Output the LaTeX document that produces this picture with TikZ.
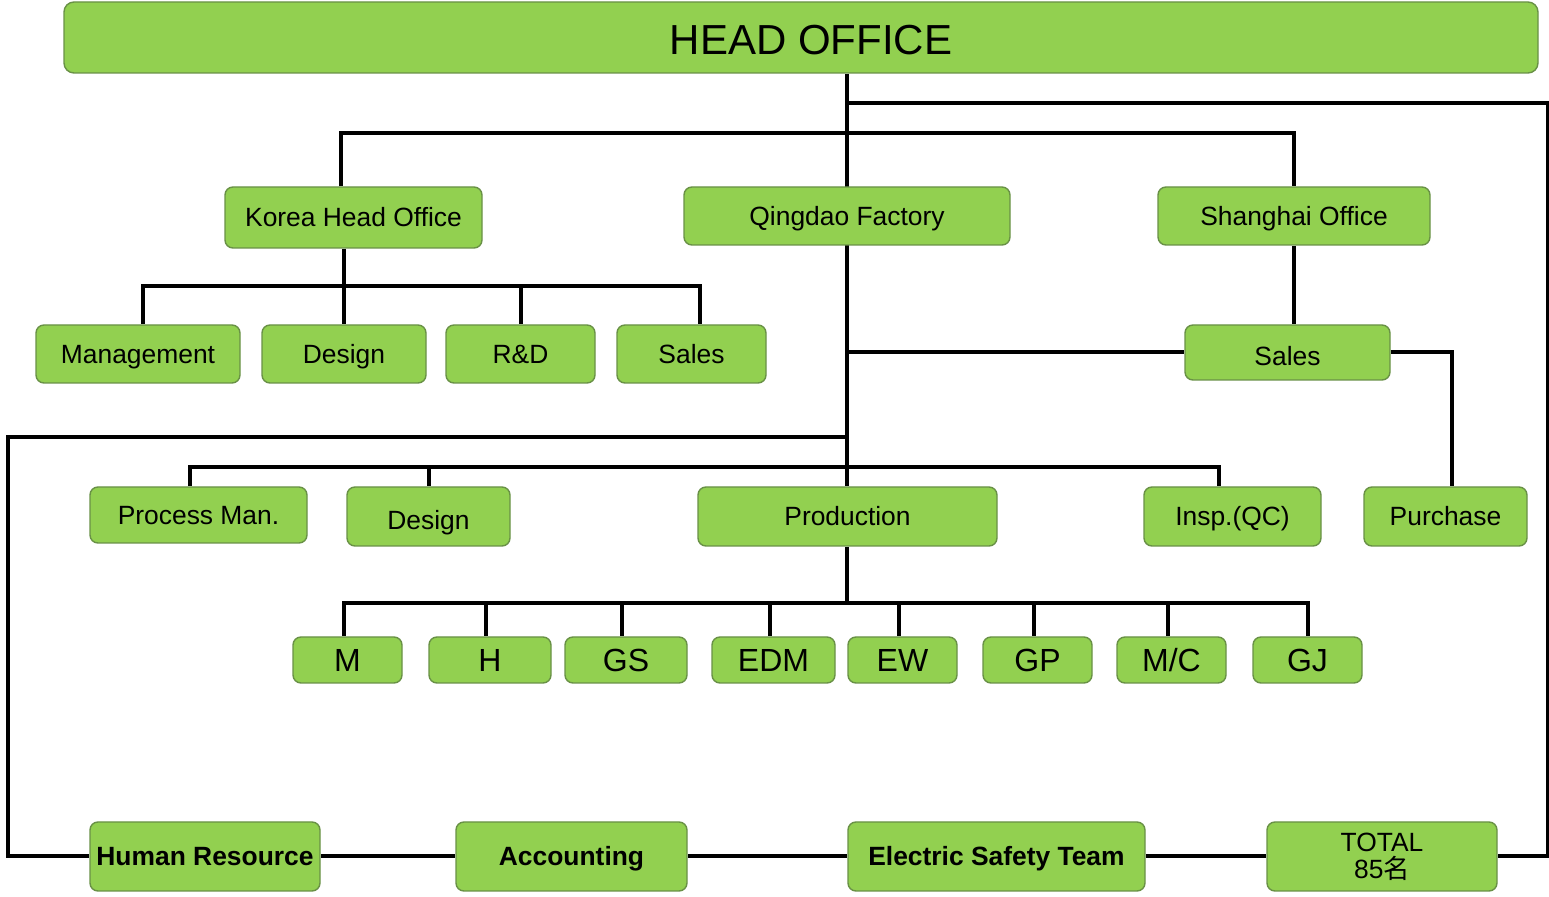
\documentclass[tikz,border=0pt]{standalone}
\usepackage{fontspec}
\setmainfont{Liberation Sans}
\newfontfamily\cjk{Noto Sans CJK SC}
\usetikzlibrary{backgrounds}
\definecolor{boxfill}{RGB}{146,208,80}
\definecolor{boxline}{RGB}{105,145,70}
\begin{document}
\begin{tikzpicture}[x=0.5pt,y=-0.5pt,
  boxbase/.style={draw=boxline, fill=boxfill, line width=0.7pt, rounded corners=4pt,
    inner sep=0pt, align=center, font=\fontsize{13.2}{14}\selectfont},
  box/.style={boxbase, text height=9.45pt, text depth=0pt},
  small/.style={boxbase, font=\fontsize{16}{18}\selectfont, minimum height=23pt, text height=11.5pt, text depth=0pt},
  mid/.style={box, minimum height=29.5pt},
  bottom/.style={box, font=\fontsize{13.2}{14}\selectfont\bfseries, minimum height=34.5pt},
  conn/.style={draw=black, line width=2pt}]
\useasboundingbox (0,0) rectangle (1549,897);
% nodes
\node[boxbase, minimum width=737pt, minimum height=35.5pt, font=\fontsize{21}{24}\selectfont, rounded corners=5pt, text height=15pt, text depth=0pt] (head) at (801,37.5) {\hspace*{10pt}\raisebox{-1pt}{HEAD OFFICE}};
\node[box, minimum width=128.5pt, minimum height=30.5pt] (kho) at (353.5,217.5) {Korea Head Office};
\node[box, minimum width=163pt, minimum height=29pt] (qd) at (847,216) {Qingdao Factory};
\node[box, minimum width=136pt, minimum height=29pt] (sh) at (1294,216) {Shanghai Office};
\node[box, minimum width=102pt, minimum height=29pt] (mgmt) at (138,354) {Management};
\node[box, minimum width=82pt, minimum height=29pt] (kdes) at (344,354) {Design};
\node[box, minimum width=74.5pt, minimum height=29pt] (rd) at (520.5,354) {R\&D};
\node[box, minimum width=74.5pt, minimum height=29pt] (ksales) at (691.5,354) {Sales};
\node[box, minimum width=102.5pt, minimum height=27.5pt] (ssales) at (1287.5,352.5) {\raisebox{-2pt}{Sales}};
\node[box, minimum width=108.5pt, minimum height=28pt] (pm) at (198.5,515) {Process Man.};
\node[mid, minimum width=81.5pt] (qdes) at (428.5,516.5) {\raisebox{-2pt}{Design}};
\node[mid, minimum width=149.5pt] (prod) at (847.5,516.5) {Production};
\node[mid, minimum width=88.5pt] (insp) at (1232.5,516.5) {Insp.(QC)};
\node[mid, minimum width=81.5pt] (pur) at (1445.5,516.5) {Purchase};
\node[small, minimum width=54.5pt] (m) at (347.5,660) {M};
\node[small, minimum width=61pt] (h) at (490,660) {H};
\node[small, minimum width=61pt] (gs) at (626,660) {GS};
\node[small, minimum width=61.5pt] (edm) at (773.5,660) {EDM};
\node[small, minimum width=54.5pt] (ew) at (902.5,660) {EW};
\node[small, minimum width=54.5pt] (gp) at (1037.5,660) {GP};
\node[small, minimum width=54.5pt] (mc) at (1171.5,660) {M/C};
\node[small, minimum width=54.5pt] (gj) at (1307.5,660) {GJ};
\node[bottom, minimum width=115pt] (hr) at (205,856.5) {Human Resource};
\node[bottom, minimum width=115.5pt] (acc) at (571.5,856.5) {Accounting};
\node[bottom, minimum width=148.5pt] (est) at (996.5,856.5) {Electric Safety Team};
\node[boxbase, minimum width=115pt, minimum height=34.5pt, font=\fontsize{13.2}{13.5}\selectfont] (total) at (1382,856.5) {TOTAL\\85{\cjk 名}};
% coordinates
\coordinate (rt) at (1548,103);
\coordinate (b1) at (0,133);
\coordinate (b2) at (0,286);
\coordinate (lc) at (8,437);
\coordinate (b3) at (0,467);
\coordinate (b4) at (0,603);
\begin{scope}[on background layer]
% trunk
\draw[conn] (head.south -| qd) -- (prod.north -| qd);
\draw[conn] (prod.south -| qd) -- (b4 -| qd);
% right loop
\draw[conn] (qd |- rt) -- (rt) |- (total.east);
% top bus
\draw[conn] ([xshift=-6.5pt]kho.north) |- (b1 -| sh) -- (sh.north);
% korea
\draw[conn] (kdes.north |- kho.south) -- (kdes.north);
\draw[conn] ([xshift=2.5pt]mgmt.north) |- ([xshift=4pt]ksales.north |- b2) -- ([xshift=4pt]ksales.north);
\draw[conn] (rd.north |- b2) -- (rd.north);
% shanghai
\draw[conn] (sh.south) -- (sh.south |- ssales.north);
\draw[conn] (qd |- ssales.west) -- (ssales.west);
\draw[conn] (ssales.east) -| ([xshift=3pt]pur.north);
% left loop
\draw[conn] (qd |- lc) -- (lc) |- (hr.west);
% factory bus
\draw[conn] ([xshift=-4.5pt]pm.north) |- ([xshift=-7pt]insp.north |- b3) -- ([xshift=-7pt]insp.north);
\draw[conn] (qdes.north |- b3) -- (qdes.north);
% production bus
\draw[conn] ([xshift=-2pt]m.north) |- (gj.north |- b4) -- (gj.north);
\foreach \n in {h,gs,edm,ew,gp,mc} \draw[conn] ([xshift=-2pt]\n.north |- b4) -- ([xshift=-2pt]\n.north);
% bottom chain
\draw[conn] (hr) -- (acc) -- (est) -- (total);
\end{scope}
\end{tikzpicture}
\end{document}
